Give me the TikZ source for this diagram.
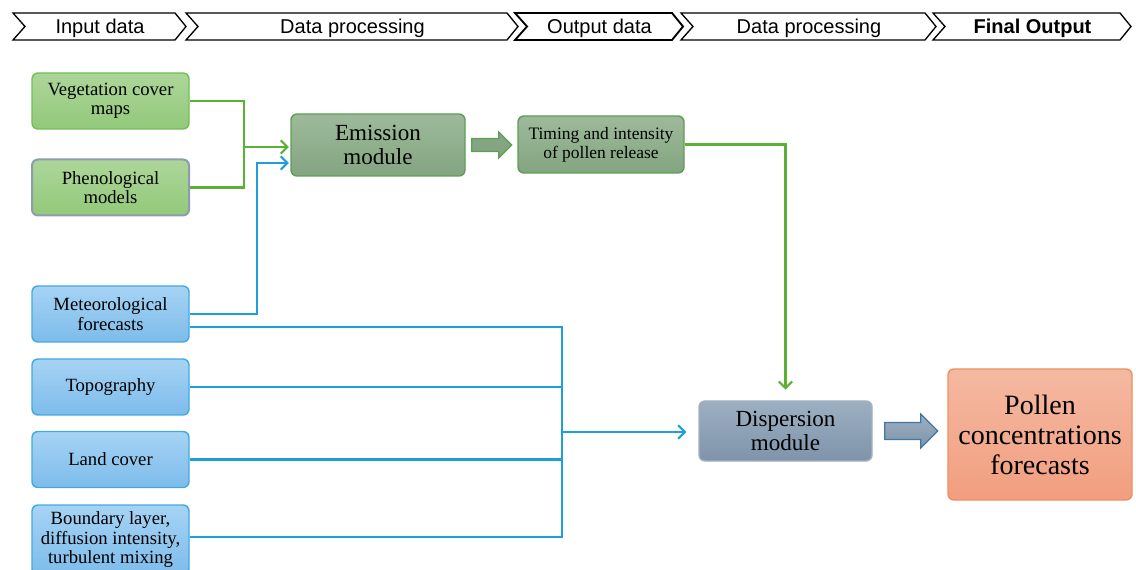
\documentclass[tikz,border=0pt]{standalone}
\usepackage{fontspec}
\setmainfont{Liberation Serif}
\newfontfamily\headfont{Liberation Sans}
\usetikzlibrary{calc,arrows.meta,positioning}

\definecolor{vegtop}{HTML}{ADD69A}
\definecolor{vegbot}{HTML}{92C97A}
\definecolor{vegedge}{HTML}{72BE55}
\definecolor{phenedge}{HTML}{8E9AAE}
\definecolor{emitop}{HTML}{9DBA9A}
\definecolor{emibot}{HTML}{84A581}
\definecolor{emiedge}{HTML}{5E9E55}
\definecolor{mettop}{HTML}{A6D3F4}
\definecolor{metbot}{HTML}{7DBCEB}
\definecolor{metedge}{HTML}{43AAE0}
\definecolor{distop}{HTML}{9DB0C2}
\definecolor{disbot}{HTML}{7F93AA}
\definecolor{disedge}{HTML}{A3B1C1}
\definecolor{poltop}{HTML}{F4B9A2}
\definecolor{polbot}{HTML}{F29E7E}
\definecolor{poledge}{HTML}{EE9061}
\definecolor{lngreen}{HTML}{5BB136}
\definecolor{lnblue}{HTML}{1E9FDC}
\definecolor{arrblue}{HTML}{3F79A0}

\tikzset{
    box/.style={draw, rounded corners=4.5pt, line width=1.1pt, align=center, inner sep=1pt},
    inbox/.style={box, minimum width=117.75pt, minimum height=42pt,
        font=\fontsize{14}{14.6}\selectfont},
    greenin/.style={inbox, draw=vegedge, top color=vegtop, bottom color=vegbot},
    bluein/.style={inbox, draw=metedge, top color=mettop, bottom color=metbot},
    module/.style={box, font=\fontsize{17.3}{18}\selectfont},
    greenline/.style={draw=lngreen, line width=1.6pt},
    blueline/.style={draw=lnblue, line width=1.6pt},
    tip/.style={-{Straight Barb[length=5pt,width=10pt]}},
    chevron/.style={draw=black, fill=white},
}

\begin{document}
\begin{tikzpicture}[x=0.75pt,y=-0.75pt]
\useasboundingbox (0,0) rectangle (1136,570);

% header
\foreach \a/\b/\lw/\txt [count=\i] in {13/175/1pt/Input data,
        186/507/1pt/Data processing,
        515/672/1.4pt/Output data,
        681/925/1pt/Data processing,
        933/1120/1pt/{\textbf{Final Output}}}{
    \draw[chevron, line width=\lw] (\a,13) -- (\b,13) -- ({\b+11},26.5) -- (\b,40)
        -- (\a,40) -- ({\a+12},26.5) -- cycle;
    \node[font=\headfont\fontsize{15}{16}\selectfont] (h\i) at ({(\a+\b)/2+6},28) {\txt};
}

% inputs
\node[greenin] (veg) at (110.5,101) {Vegetation cover\\maps};
\node[greenin, draw=phenedge, line width=1.5pt] (phen) at (110.5,187.5) {Phenological\\models};
\node[bluein] (met) at (110.5,314) {Meteorological\\forecasts};
\node[bluein] (topo) at (110.5,387) {Topography};
\node[bluein] (land) at (110.5,459.5) {Land cover};
\node[bluein, minimum height=52.5pt] (bound) at (110.5,540) {Boundary layer,\\diffusion intensity,\\turbulent mixing};

% modules
\node[module, minimum width=130.5pt, minimum height=46.5pt, draw=emiedge,
    top color=emitop, bottom color=emibot] (emis) at (378,145) {Emission\\module};
\node[box, minimum width=124.5pt, minimum height=42.75pt, draw=emiedge,
    top color=emitop, bottom color=emibot, font=\fontsize{13.1}{14}\selectfont]
    (timing) at (601,144.5) {Timing and intensity\\of pollen release};
\node[module, minimum width=129.75pt, minimum height=45pt, draw=disedge,
    top color=distop, bottom color=disbot] (disp) at (785.5,431) {Dispersion\\module};
\node[box, minimum width=138pt, minimum height=98.25pt, draw=poledge,
    top color=poltop, bottom color=polbot, font=\fontsize{21}{22.5}\selectfont]
    (pollen) at (1040,434.5) {Pollen\\concentrations\\forecasts};

% block arrows
\draw[draw=emiedge, fill=emibot, line width=0.9pt] ($(emis.east)+(6,-6.5)$) -- ++(27,0) -- ++(0,-6.5)
    -- ++(13,13) -- ++(-13,13) -- ++(0,-6.5) -- ++(-27,0) -- cycle;
\draw[draw=arrblue, top color=distop, bottom color=disbot, line width=0.9pt] ($(disp.east)+(12,-8.5)$)
    -- ++(36,0) -- ++(0,-8.5) -- ++(17,17) -- ++(-17,17) -- ++(0,-8.5) -- ++(-36,0) -- cycle;

% green connectors
\coordinate (gj) at (244,147);
\draw[greenline] (veg.east) -| (gj);
\draw[greenline] (phen.east) -| (gj);
\draw[greenline, tip] (gj) -- ([xshift=-1pt]emis.west |- gj);
\draw[greenline, tip] (timing.east) -| ([yshift=8pt]disp.north);

% blue connectors
\coordinate (bj) at (257,163);
\draw[blueline, tip] (met.east) -| (bj) -- ([xshift=-1pt]emis.west |- bj);
\coordinate (bus) at (562,432);
\draw[blueline] ($(met.east)+(0,13)$) -| (bus);
\draw[blueline] (topo.east) -| (bus);
\draw[blueline] (land.east) -| (bus);
\draw[blueline] ($(bound.east)+(0,-3)$) -| (bus);
\draw[blueline, tip] (bus) -- ([xshift=-9pt]disp.west |- bus);
\end{tikzpicture}
\end{document}
